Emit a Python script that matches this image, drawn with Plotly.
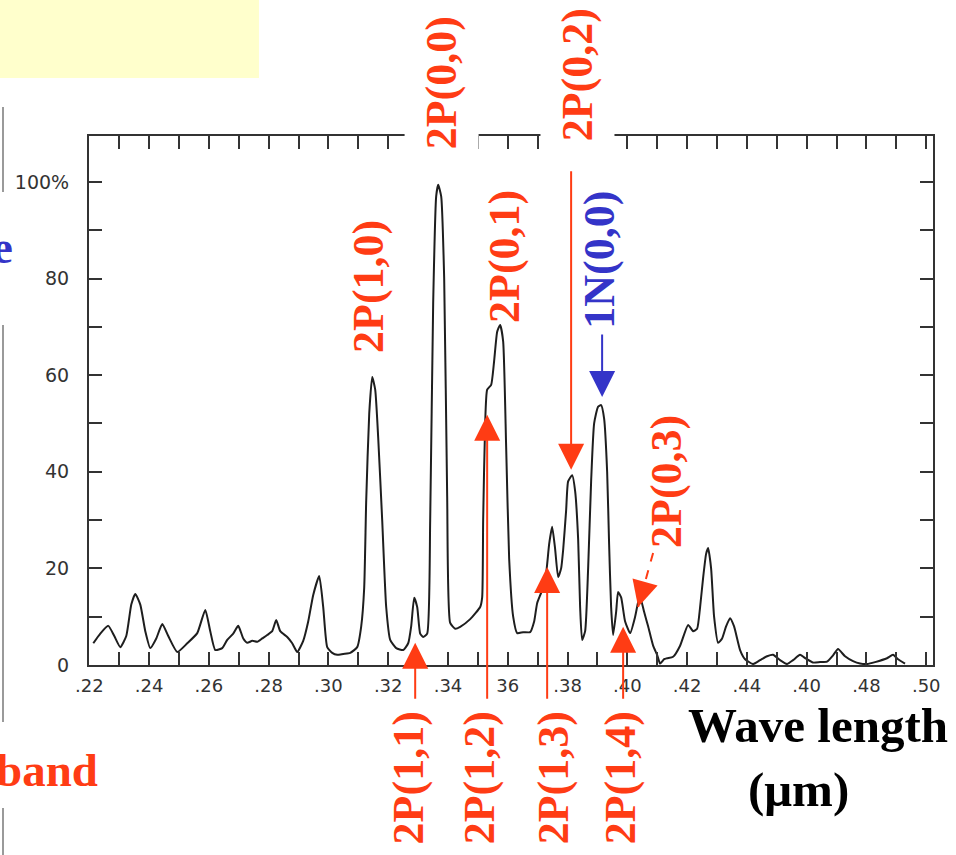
import plotly.graph_objects as go

# Spectrum: wavelength (um) and relative intensity (%)
wavelength_um = [
    0.22134, 0.22368, 0.22635, 0.22836, 0.23037, 0.23237, 0.23405, 0.23538, 0.23706, 0.23873,
    0.24040, 0.24241, 0.24441, 0.24642, 0.24943, 0.25278, 0.25612, 0.25880, 0.26047, 0.26214,
    0.26448, 0.26615, 0.26816, 0.26983, 0.27151, 0.27284, 0.27452, 0.27619, 0.27786, 0.27953,
    0.28120, 0.28254, 0.28388, 0.28622, 0.28789, 0.28957, 0.29157, 0.29324, 0.29492, 0.29692,
    0.29826, 0.29960, 0.30127, 0.30294, 0.30495, 0.30729, 0.30963, 0.31097, 0.31197, 0.31264,
    0.31365, 0.31465, 0.31565, 0.31666, 0.31799, 0.31933, 0.32067, 0.32268, 0.32502, 0.32669,
    0.32769, 0.32870, 0.32970, 0.33070, 0.33171, 0.33304, 0.33405, 0.33505, 0.33605, 0.33672,
    0.33773, 0.33873, 0.33973, 0.34074, 0.34241, 0.34408, 0.34743, 0.35077, 0.35144, 0.35177,
    0.35244, 0.35311, 0.35445, 0.35545, 0.35646, 0.35746, 0.35846, 0.35947, 0.36047, 0.36181,
    0.36314, 0.36515, 0.36749, 0.36883, 0.36983, 0.37151, 0.37284, 0.37385, 0.37485, 0.37585,
    0.37686, 0.37786, 0.37853, 0.37953, 0.38020, 0.38154, 0.38254, 0.38355, 0.38421, 0.38488,
    0.38589, 0.38689, 0.38789, 0.38890, 0.39024, 0.39124, 0.39224, 0.39325, 0.39391, 0.39458,
    0.39525, 0.39626, 0.39692, 0.39793, 0.39927, 0.40094, 0.40261, 0.40361, 0.40428, 0.40562,
    0.40696, 0.40863, 0.40997, 0.41097, 0.41231, 0.41331, 0.41532, 0.41766, 0.42034, 0.42201,
    0.42335, 0.42435, 0.42535, 0.42636, 0.42703, 0.42803, 0.42903, 0.43037, 0.43171, 0.43304,
    0.43438, 0.43572, 0.43773, 0.43940, 0.44207, 0.44442, 0.44676, 0.44876, 0.45111, 0.45345,
    0.45545, 0.45779, 0.45980, 0.46214, 0.46448, 0.46682, 0.46883, 0.47050, 0.47284, 0.47552,
    0.47786, 0.48020, 0.48288, 0.48689, 0.48890, 0.49057, 0.49291,
]
intensity_pct = [
    4.5, 6.5, 8.1, 6.0, 3.7, 6.0, 12.5, 14.7, 12.5, 7.0,
    3.5, 5.5, 8.5, 6.0, 2.7, 4.5, 6.6, 11.4, 7.0, 3.1,
    3.5, 5.2, 6.5, 8.1, 5.5, 4.6, 5.0, 4.8, 5.5, 6.2,
    7.0, 9.3, 7.0, 5.8, 4.5, 2.7, 5.0, 9.0, 14.5, 18.4,
    12.0, 3.7, 2.5, 2.1, 2.3, 2.5, 3.7, 8.0, 16.0, 34.0,
    52.0, 59.6, 57.0, 47.0, 30.0, 12.0, 5.2, 3.5, 3.1, 4.5,
    8.0, 13.9, 12.0, 6.5, 5.8, 6.5, 30.0, 75.0, 97.0, 99.4,
    97.0, 80.0, 35.0, 8.7, 7.5, 7.9, 9.5, 12.0, 14.0, 30.0,
    50.0, 57.0, 58.0, 63.0, 69.0, 70.4, 67.0, 45.0, 22.0, 10.0,
    6.6, 6.8, 6.8, 9.0, 12.8, 15.5, 19.0, 25.0, 28.6, 24.0,
    18.2, 20.0, 23.8, 32.0, 38.0, 39.3, 36.0, 26.0, 12.0, 5.2,
    7.0, 20.0, 38.0, 50.0, 53.5, 53.8, 51.0, 40.0, 25.0, 12.0,
    6.2, 11.0, 15.1, 14.0, 9.0, 6.6, 10.0, 13.0, 14.1, 11.0,
    8.0, 4.0, 2.1, 0.3, 1.2, 1.4, 1.7, 4.0, 8.3, 7.0,
    7.5, 12.0, 18.0, 23.0, 24.2, 20.0, 10.0, 4.6, 5.5, 8.0,
    9.7, 8.0, 3.1, 1.2, 0.2, 1.0, 1.8, 2.1, 1.0, 0.2,
    1.0, 2.1, 1.3, 0.5, 0.6, 0.7, 2.0, 3.3, 1.8, 0.8,
    0.3, 0.2, 0.6, 1.4, 2.1, 1.2, 0.3,
]

# Axis ticks
x_tick_vals = [0.22, 0.23, 0.24, 0.25, 0.26, 0.27, 0.28, 0.29, 0.30, 0.31,
               0.32, 0.33, 0.34, 0.35, 0.36, 0.37, 0.38, 0.39, 0.40, 0.41,
               0.42, 0.43, 0.44, 0.45, 0.46, 0.47, 0.48, 0.49, 0.50]
x_tick_text = [".22", "", ".24", "", ".26", "", ".28", "", ".30", "",
               ".32", "", ".34", "", "36", "", ".38", "", ".40", "",
               ".42", "", ".44", "", ".40", "", ".48", "", ".50"]
y_tick_vals = [0, 10, 20, 30, 40, 50, 60, 70, 80, 90, 100]
y_tick_text = ["0", "", "20", "", "40", "", "60", "", "80", "", "100%"]

# Band labels inside the frame: text, wavelength, intensity, colour
band_labels_in = [
    ("2P(1,0)", 0.31365, 78.3, "red"),
    ("2P(0,1)", 0.35913, 84.5, "red"),
    ("1N(0,0)", 0.39090, 83.9, "blue"),
    ("2P(0,3)", 0.41331, 37.9, "red"),
]
# Band labels outside the frame: text, wavelength, vertical position (fraction of frame)
band_labels_out = [
    ("2P(0,0)", 0.33773, 1.100),
    ("2P(0,2)", 0.38321, 1.115),
    ("2P(1,1)", 0.32669, -0.214),
    ("2P(1,2)", 0.35043, -0.214),
    ("2P(1,3)", 0.37518, -0.214),
    ("2P(1,4)", 0.39759, -0.214),
]
# Arrows: tip wavelength, tip intensity, tail wavelength, tail intensity, colour
band_arrows = [
    (0.32903, 4.6, 0.32903, -7.3, "red"),
    (0.35311, 51.8, 0.35311, -7.3, "red"),
    (0.37318, 20.3, 0.37318, -7.3, "red"),
    (0.39860, 7.9, 0.39860, -7.3, "red"),
    (0.38120, 40.4, 0.38120, 102.5, "red"),
    (0.39157, 55.5, 0.39157, 68.7, "blue"),
]
dashed_arrow = (0.40361, 12.0, 0.40863, 23.2)

RED = "#ff3c14"
BLUE = "#3434c8"
COLORS = {"red": RED, "blue": BLUE}
SERIF = "Liberation Serif"
LBL = 44

fig = go.Figure()
fig.add_trace(go.Scatter(
    x=wavelength_um, y=intensity_pct, mode="lines",
    line=dict(color="#1e1e1e", width=2, shape="spline", smoothing=0.5),
    hoverinfo="skip", showlegend=False,
))

annotations = []
for text, x, y, c in band_labels_in:
    annotations.append(dict(
        x=x, y=y, xref="x", yref="y", text="<b>" + text + "</b>",
        xanchor="center", yanchor="middle",
        textangle=-90, showarrow=False,
        font=dict(family=SERIF, size=LBL, color=COLORS[c]),
    ))
for text, x, yp in band_labels_out:
    top = yp > 1
    annotations.append(dict(
        x=x, y=yp, xref="x", yref="paper", text="<b>" + text + "</b>",
        xanchor="center", yanchor="middle",
        textangle=-90, showarrow=False,
        font=dict(family=SERIF, size=LBL, color=RED),
        bgcolor="white" if top else None, borderpad=12 if top else 0,
    ))
for tx, ty, sx, sy, c in band_arrows:
    annotations.append(dict(
        x=tx, y=ty, ax=sx, ay=sy, xref="x", yref="y", axref="x", ayref="y",
        text="", showarrow=True, arrowhead=2, arrowsize=2.6, arrowwidth=2,
        arrowcolor=COLORS[c],
    ))
# short arrow giving the head of the dashed pointer
tx, ty, sx, sy = dashed_arrow
annotations.append(dict(
    x=tx, y=ty, ax=tx + (sx - tx) * 0.35, ay=ty + (sy - ty) * 0.35,
    xref="x", yref="y", axref="x", ayref="y",
    text="", showarrow=True, arrowhead=2, arrowsize=2.6, arrowwidth=2,
    arrowcolor=RED,
))

annotations += [
    dict(x=0.8637, y=-0.115, xref="paper", yref="paper", text="<b>Wave length</b>",
         xanchor="center", yanchor="middle", showarrow=False,
         font=dict(family=SERIF, size=49, color="black")),
    dict(x=0.8412, y=-0.236, xref="paper", yref="paper", text="<b>(μm)</b>",
         xanchor="center", yanchor="middle", showarrow=False,
         font=dict(family=SERIF, size=49, color="black")),
    dict(x=0.0130, y=-0.1985, xref="paper", yref="paper", xanchor="right",
         yanchor="middle", text="<b>band</b>", showarrow=False,
         font=dict(family=SERIF, size=47, color=RED)),
    dict(x=-0.0877, y=0.790, xref="paper", yref="paper", xanchor="right",
         yanchor="middle", text="<b>e</b>", showarrow=False,
         font=dict(family=SERIF, size=47, color=BLUE)),
]

shapes = [
    dict(type="rect", xref="paper", yref="paper", x0=-0.12, x1=0.2014,
         y0=1.1096, y1=1.3, fillcolor="#ffffcc", line=dict(width=0), layer="below"),
    dict(type="line", xref="x", yref="y", x0=dashed_arrow[2], y0=dashed_arrow[3],
         x1=dashed_arrow[0], y1=dashed_arrow[1],
         line=dict(color=RED, width=2, dash="dash")),
]
for y0, y1 in [(1.0548, 0.8941), (0.6427, -0.1078), (-0.2703, -0.36)]:
    shapes.append(dict(type="line", xref="paper", yref="paper", x0=-0.1019, x1=-0.1019,
                       y0=y0, y1=y1, line=dict(color="#9a9a9a", width=2)))

fig.update_layout(
    width=956, height=855,
    margin=dict(l=89, r=23, t=136, b=190),
    paper_bgcolor="white", plot_bgcolor="white",
    annotations=annotations, shapes=shapes,
    xaxis=dict(range=[0.2199, 0.50227], tickvals=x_tick_vals, ticktext=x_tick_text,
               ticks="inside", ticklen=13, tickwidth=2, tickcolor="#333",
               showline=True, linecolor="#333", linewidth=2, mirror="allticks",
               showgrid=False, zeroline=False, ticklabelstandoff=3,
               tickfont=dict(family="DejaVu Sans", size=18, color="#333")),
    yaxis=dict(range=[0, 109.5], tickvals=y_tick_vals, ticktext=y_tick_text,
               ticks="inside", ticklen=13, tickwidth=2, tickcolor="#333",
               showline=True, linecolor="#333", linewidth=2, mirror="allticks",
               showgrid=False, zeroline=False, ticklabelstandoff=14,
               tickfont=dict(family="DejaVu Sans", size=19, color="#333")),
)

fig.write_html("out.html", config={"displayModeBar": False},
               post_script="document.body.style.margin='0';")
